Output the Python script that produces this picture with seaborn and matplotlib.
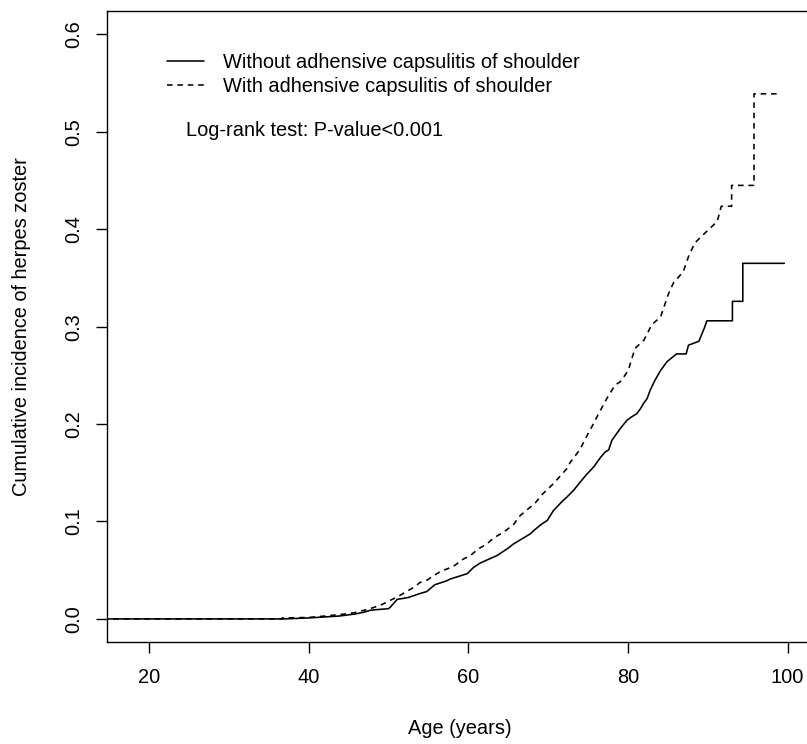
import numpy as np
import pandas as pd
import matplotlib
matplotlib.use("Agg")
import matplotlib.pyplot as plt
import seaborn as sns

# cumulative incidence; repeated ages are the corners of
# the visible steps
age_without = [0, 37.0, 40.0, 42.0, 43.9, 45.8, 47.0, 47.8, 50.0, 50.2, 51.0, 51.1,
               52.5, 53.98, 54.82, 55.8, 57.3, 57.74, 59.9, 60.66, 61.5, 62.5,
               63.6, 64.9, 65.67, 66.7, 67.76, 68.4, 69.23, 69.9, 70.68, 71.7,
               72.36, 73.2, 74.03, 74.8, 75.7, 76.6, 77.16, 77.6, 78.0, 79.04,
               79.9, 80.4, 81.14, 81.6, 81.96, 82.4, 82.8, 83.4, 84.1, 84.9, 85.5,
               86.1, 87.3, 87.6, 88.9, 89.6, 89.9, 93.1, 93.1, 94.4, 94.4, 99.6]
cum_without = [0.0, 0.0, 0.001, 0.002, 0.003, 0.005, 0.007, 0.009, 0.0105, 0.0117,
               0.019, 0.020, 0.022, 0.0261, 0.0281, 0.035, 0.0391, 0.0409, 0.0465,
               0.0528, 0.0573, 0.061, 0.065, 0.072, 0.0769, 0.082, 0.0872, 0.092,
               0.0975, 0.101, 0.1112, 0.120, 0.125, 0.132, 0.1404, 0.148, 0.1558,
               0.166, 0.1713, 0.1735, 0.1833, 0.1953, 0.204, 0.207, 0.2108, 0.216,
               0.2211, 0.226, 0.2348, 0.245, 0.255, 0.264, 0.268, 0.272, 0.272,
               0.281, 0.285, 0.299, 0.306, 0.306, 0.326, 0.326, 0.365, 0.365]

age_with = [0, 36.7, 36.7, 40.0, 42.6, 44.5, 45.8, 47.5, 49.0, 50.6, 51.0, 53.1,
            53.98, 54.9, 55.65, 56.5, 58.16, 59.4, 59.8, 60.25, 61.3, 62.34, 62.8,
            63.3, 64.42, 65.7, 66.5, 68.4, 69.3, 70.7, 72.36, 72.8, 73.61, 74.0,
            74.8, 75.7, 76.12, 77.37, 78.4, 79.04, 79.5, 80.08, 80.3, 80.9, 82.0,
            83.0, 84.1, 85.1, 85.7, 86.96, 87.6, 88.4, 89.9, 91.2, 91.7, 93.0,
            93.0, 95.8, 95.8, 98.7]
cum_with = [0.0, 0.0, 0.001, 0.0015, 0.0034, 0.005, 0.0065, 0.010, 0.014, 0.0205,
            0.022, 0.032, 0.0374, 0.040, 0.0443, 0.0485, 0.054, 0.0615, 0.063,
            0.0649, 0.072, 0.0769, 0.0803, 0.0837, 0.0889, 0.097, 0.106, 0.119,
            0.128, 0.139, 0.1542, 0.161, 0.1696, 0.174, 0.1867, 0.2005, 0.2073,
            0.2263, 0.240, 0.2434, 0.2485, 0.2554, 0.262, 0.2777, 0.286, 0.302,
            0.310, 0.334, 0.3447, 0.3567, 0.372, 0.386, 0.398, 0.408, 0.4236,
            0.4236, 0.445, 0.445, 0.539, 0.539]

labels = ["Without adhensive capsulitis of shoulder",
          "With adhensive capsulitis of shoulder"]

df = pd.concat([
    pd.DataFrame({"age": age_without, "cum": cum_without, "group": labels[0]}),
    pd.DataFrame({"age": age_with, "cum": cum_with, "group": labels[1]}),
])

sns.set_theme(style="white")
plt.rcParams["font.family"] = ["Liberation Sans", "DejaVu Sans"]
plt.rcParams.update({"text.color": "black", "axes.labelcolor": "black",
                     "xtick.color": "black", "ytick.color": "black"})
fs = 14.4

fig = plt.figure(figsize=(8.07, 7.44), dpi=100)
ax = fig.add_axes([0.1322, 0.1367, 0.8761, 0.8485])

sns.lineplot(data=df, x="age", y="cum", style="group", style_order=labels,
             dashes={labels[0]: "", labels[1]: (3.5, 3)}, color="black",
             linewidth=1.15, estimator=None, errorbar=None, legend=False, ax=ax)

ax.set_xlim(14.72, 103.28)
ax.set_ylim(-0.024, 0.624)
ax.set_xticks([20, 40, 60, 80, 100])
ax.set_yticks([0.0, 0.1, 0.2, 0.3, 0.4, 0.5, 0.6])
ax.set_yticklabels(["0.0", "0.1", "0.2", "0.3", "0.4", "0.5", "0.6"])

for s in ax.spines.values():
    s.set_color("black")
    s.set_linewidth(1.0)

ax.tick_params(axis="x", direction="out", length=7.9, width=1.0, color="black",
               labelsize=fs, pad=10.7, bottom=True)
ax.tick_params(axis="y", direction="out", length=7.9, width=1.0, color="black",
               labelsize=fs, pad=8.9, left=True)
plt.setp(ax.get_yticklabels(), rotation=90, va="center")

ax.set_xlabel("Age (years)", fontsize=fs, va="center")
ax.xaxis.set_label_coords(0.5, -0.1373)
ax.set_ylabel("Cumulative incidence of herpes zoster", fontsize=fs, va="center")
ax.yaxis.set_label_coords(-0.1198, 0.5)

ax.legend(ax.lines[:2], labels, loc="upper left", bbox_to_anchor=(0.0853, 0.933),
          frameon=False, fontsize=fs, handlelength=1.85, handletextpad=0.94,
          labelspacing=0.22, borderpad=0, borderaxespad=0)

ax.text(0.1122, 0.8115, "Log-rank test: P-value<0.001", transform=ax.transAxes,
        fontsize=fs, va="center", ha="left")

fig.savefig("out.png", dpi=100)
